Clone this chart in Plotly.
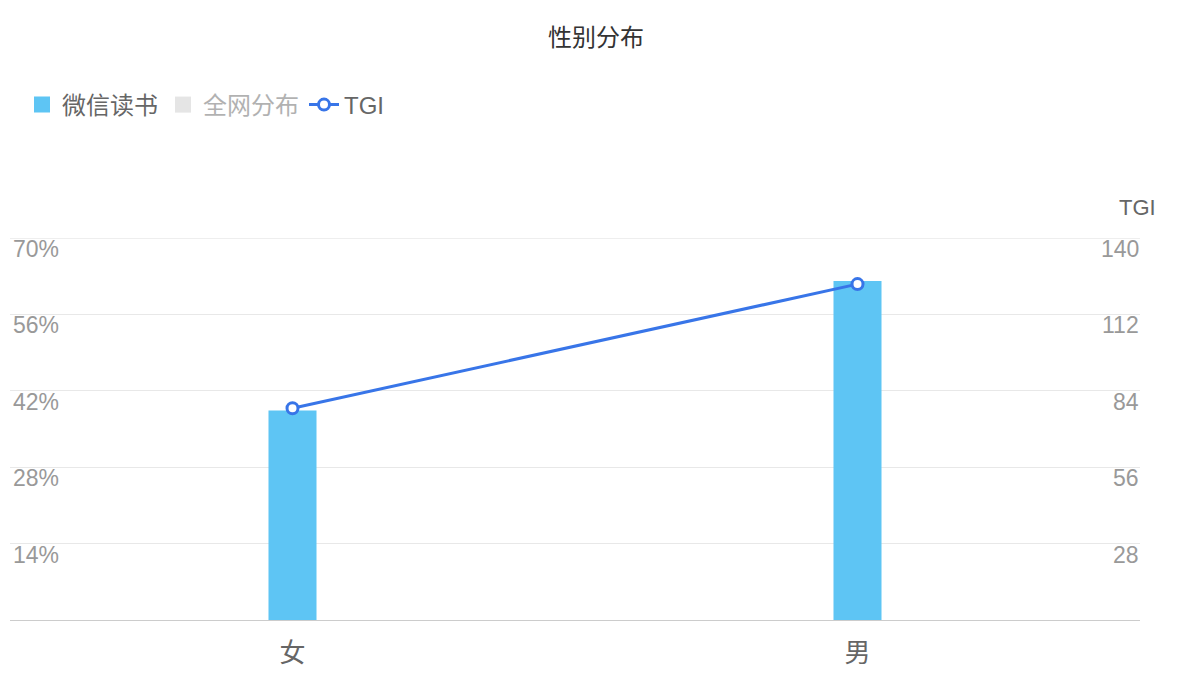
import plotly.graph_objects as go

categories = ["女", "男"]
weread_share = [38.4, 62.1]      # 微信读书 (%)
overall_share = [49.5, 50.5]     # 全网分布 (%) - legend only
tgi = [77.6, 123.1]              # TGI

left_ticks = [14, 28, 42, 56, 70]
left_labels = ["14%", "28%", "42%", "56%", "70%"]
right_ticks = [28, 56, 84, 112, 140]
right_labels = ["28", "56", "84", "112", "140"]

FONT = "Liberation Sans, Noto Sans CJK SC, sans-serif"
BAR_BLUE = "#5EC5F4"
GREY = "#CCCCCC"
LINE_BLUE = "#3875E8"
TICK_FONT = dict(size=23, color="#999999")

# page body has an 8px default margin; figure is sized to fit the window
W, H = 1184, 680

fig = go.Figure()
fig.add_trace(go.Bar(
    x=categories, y=weread_share, name="微信读书", legendgroup="wx",
    showlegend=False,
    marker=dict(color=BAR_BLUE, line=dict(width=0)), width=0.085,
))
fig.add_trace(go.Scatter(
    x=[None], y=[None], name="微信读书", legendgroup="wx", mode="markers",
    marker=dict(symbol="square", size=17, color=BAR_BLUE), hoverinfo="skip",
))
fig.add_trace(go.Bar(
    x=categories, y=overall_share, name="全网分布", legendgroup="all",
    showlegend=False, visible="legendonly",
    marker=dict(color=GREY, line=dict(width=0)), width=0.085,
))
fig.add_trace(go.Scatter(
    x=[None], y=[None], name="全网分布", legendgroup="all", mode="markers",
    visible="legendonly",
    marker=dict(symbol="square", size=17, color=GREY), hoverinfo="skip",
))
fig.add_trace(go.Scatter(
    x=categories, y=tgi, name="TGI", yaxis="y2", mode="lines+markers",
    line=dict(color=LINE_BLUE, width=3),
    marker=dict(symbol="circle", size=11, color="white",
                line=dict(color=LINE_BLUE, width=3)),
))

# tick labels sit just below their grid lines, inside the plot area
annotations = []
for v, t in zip(left_ticks, left_labels):
    annotations.append(dict(text=t, xref="paper", x=0, yref="y", y=v,
                            xanchor="left", yanchor="middle", xshift=1, yshift=-11,
                            showarrow=False, font=TICK_FONT))
for v, t in zip(right_ticks, right_labels):
    annotations.append(dict(text=t, xref="paper", x=1, yref="y2", y=v,
                            xanchor="right", yanchor="middle", xshift=1, yshift=-11,
                            showarrow=False, font=TICK_FONT))
annotations.append(dict(text="TGI", xref="paper", yref="paper", x=1.0, y=1.0,
                        xanchor="right", yanchor="bottom", yshift=16, xshift=18,
                        showarrow=False, font=dict(size=22, color="#666666")))

fig.update_layout(
    width=W, height=H,
    paper_bgcolor="white", plot_bgcolor="white",
    font=dict(family=FONT, color="#666666"),
    margin=dict(l=2, r=52, t=230, b=68, autoexpand=False),
    title=dict(text="性别分布", x=(596 - 8) / W, xanchor="center", xref="container",
               y=1 - 30 / H, yref="container", yanchor="middle",
               font=dict(size=24, color="#333333")),
    barmode="overlay",
    showlegend=True,
    legend=dict(orientation="h", xref="container", yref="container",
                x=14 / W, xanchor="left", y=1 - 97 / H, yanchor="middle",
                font=dict(size=24, color="#666666"), itemwidth=30,
                itemsizing="trace", bgcolor="rgba(0,0,0,0)"),
    xaxis=dict(type="category", range=[-0.5, 1.5], showgrid=False, showline=True,
               linecolor=GREY, linewidth=1, ticks="",
               ticklabelstandoff=10,
               tickfont=dict(size=26, color="#666666"), zeroline=False),
    yaxis=dict(range=[0, 70], tickvals=left_ticks, showticklabels=False,
               showgrid=True, gridcolor="#E8E8E8", gridwidth=1,
               zeroline=False, showline=False, ticks=""),
    yaxis2=dict(range=[0, 140], tickvals=right_ticks, showticklabels=False,
                overlaying="y", side="right", showgrid=False,
                zeroline=False, showline=False, ticks=""),
    shapes=[dict(type="line", xref="paper", x0=0, x1=1, yref="y",
                 y0=left_ticks[-1], y1=left_ticks[-1], layer="below",
                 line=dict(color="#E8E8E8", width=1.5))],
    annotations=annotations,
)

fig.write_html("out.html")
